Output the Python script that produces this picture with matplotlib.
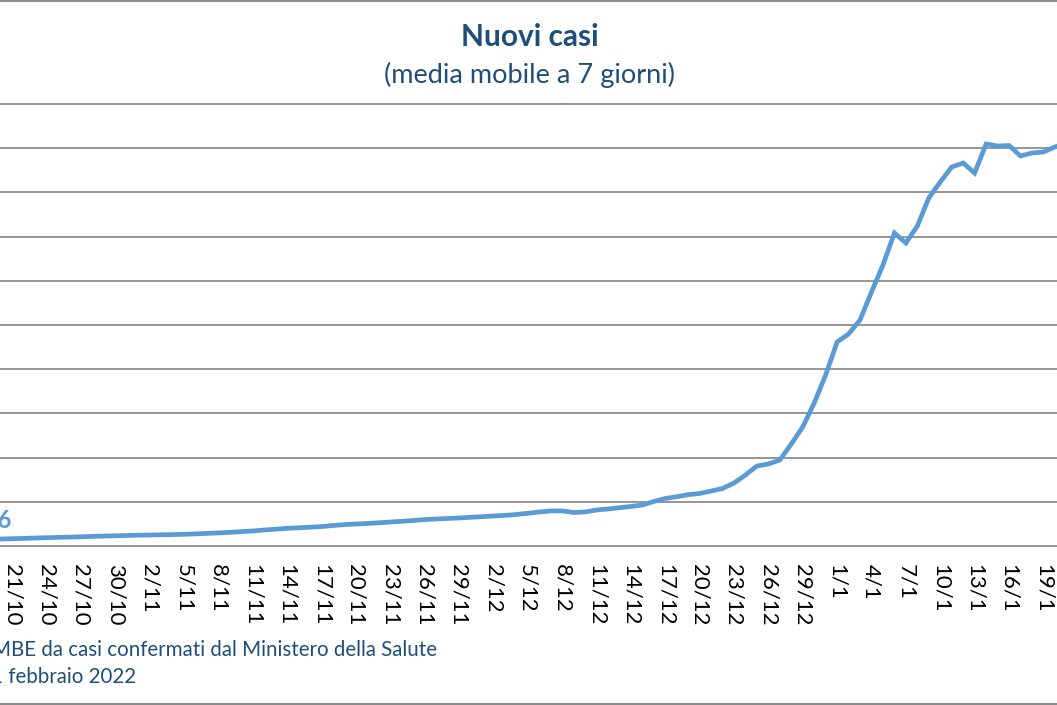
import pandas as pd
import matplotlib.pyplot as plt
from matplotlib.lines import Line2D

# daily values, 7-day moving average of new cases, from 18/10/2021
giorni = pd.date_range("2021-10-18", "2022-01-21", freq="D")
casi = [2806, 2941, 3168, 3303, 3439, 3620, 3756, 3892, 4027, 4163, 4344, 4480,
        4616, 4751, 4887, 4978, 5068, 5159, 5294, 5475, 5702, 5928, 6154, 6516,
        6788, 7240, 7602, 8009, 8236, 8507, 8779, 9276, 9684, 9955, 10181, 10498,
        10860, 11177, 11539, 11946, 12218, 12444, 12670, 12987, 13258, 13575, 13847, 14254,
        14800, 15385, 15838, 15900, 15159, 15385, 16290, 16743, 17331, 17874, 18553, 20136,
        21494, 22308, 23213, 23756, 24888, 26019, 28508, 32128, 36200, 37105, 38915, 46155,
        53848, 64708, 77378, 92310, 95930, 102265, 114935, 127153, 141633, 137108, 144800, 157470,
        164710, 171498, 173308, 168783, 181905, 181000, 181226, 176475, 177833, 178285, 180548, 182358]
etichetta_primo = "2.806"
titolo = "Nuovi casi"
sottotitolo = "(media mobile a 7 giorni)"
fonte = "Fonte: Elaborazione GIMBE da casi confermati dal Ministero della Salute"
aggiornamento = "Dati aggiornati al 1 febbraio 2022"

blu_linea = "#5B9BD5"
blu_testo = "#1F4E79"
grigio = "#8C8C8C"
plt.rcParams['font.family'] = ['Lato', 'DejaVu Sans']

W, H = 1057, 705
fig = plt.figure(figsize=(W / 100, H / 100), dpi=100)

# plot area: bottom at 546 px, top at 104 px (from top); x cropped at both sides
ax = fig.add_axes([0, (H - 546) / H, 1, (546 - 104) / H])
x = list(range(-3, len(casi) - 3))   # day index, 0 = 21/10
ax.plot(x, casi, color=blu_linea, lw=3.4, solid_joinstyle='miter', zorder=3)

px_day = 11.46
ax.set_xlim(-12 / px_day, (W - 12) / px_day)
ax.set_ylim(0, 200000)

for v in range(0, 200001, 20000):
    ax.axhline(v, color=grigio, lw=1.3, clip_on=False, zorder=1)

tick_pos = list(range(0, 91, 3))
tick_lab = [f"{giorni[p + 3].day}/{giorni[p + 3].month}" for p in tick_pos]
ax.set_xticks(tick_pos)
ax.set_xticklabels(tick_lab, rotation=-90, fontsize=16, color="black")
ax.tick_params(axis='x', length=0, pad=13)
ax.set_yticks([])
for s in ax.spines.values():
    s.set_visible(False)

# data label of the first point
fig.text(11 / W, 1 - 520 / H, etichetta_primo, ha='right', va='center',
         fontsize=17, fontweight='bold', color=blu_linea)

fig.text(530 / W, 1 - 37 / H, titolo, ha='center', va='center',
         fontsize=21.5, fontweight='bold', color=blu_testo)
fig.text(530 / W, 1 - 75 / H, sottotitolo, ha='center', va='center',
         fontsize=19.5, color=blu_testo)

fig.text(437 / W, 1 - 650 / H, fonte, ha='right', va='center',
         fontsize=14.8, color=blu_testo)
fig.text(136 / W, 1 - 677 / H, aggiornamento, ha='right', va='center',
         fontsize=14.8, color=blu_testo)

# chart border, top and bottom
fig.add_artist(Line2D([0, 1], [1 - 1 / H, 1 - 1 / H], color=grigio, lw=1.5))
fig.add_artist(Line2D([0, 1], [1 - 704 / H, 1 - 704 / H], color=grigio, lw=1.5))

fig.savefig("out.png", dpi=100)
